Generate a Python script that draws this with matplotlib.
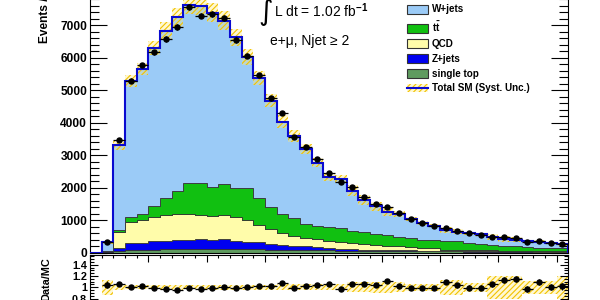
import numpy as np
import matplotlib
matplotlib.use("Agg")
import matplotlib.pyplot as plt
from matplotlib.patches import Patch
from matplotlib.lines import Line2D
from matplotlib.ticker import MultipleLocator, FixedLocator, FuncFormatter

plt.rcParams['font.family'] = ['Liberation Sans', 'DejaVu Sans']
plt.rcParams['font.weight'] = 'bold'
plt.rcParams['mathtext.fontset'] = 'custom'
plt.rcParams['mathtext.rm'] = 'Liberation Sans'
plt.rcParams['mathtext.bf'] = 'Liberation Sans:bold'
plt.rcParams['hatch.linewidth'] = 0.8

# 41 bins of 10 GeV
edges = np.arange(0, 420, 10)

single_top = np.array([0, 30, 50, 80, 85, 90, 95, 100, 105, 105, 105, 105, 100, 100, 95, 90, 85, 80, 75, 70,
                       65, 60, 56, 52, 48, 45, 42, 40, 38, 36, 34, 32, 30, 28, 26, 25, 24, 23, 22, 21, 20])
zjets = np.array([0, 5, 78, 202, 218, 264, 259, 274, 280, 310, 290, 310, 254, 233, 218, 161, 146, 130, 125, 110,
                  70, 55, 45, 38, 33, 29, 26, 23, 20, 18, 16, 14, 13, 12, 11, 10, 9, 8, 8, 7, 7])
qcd = np.array([0, 15, 513, 667, 697, 749, 800, 821, 789, 739, 738, 739, 749, 667, 533, 472, 359, 308, 256, 235,
                215, 210, 199, 185, 154, 136, 122, 107, 92, 86, 40, 36, 32, 28, 25, 22, 20, 18, 16, 14, 12])
ttbar = np.array([0, 5, 51, 153, 174, 328, 513, 697, 954, 974, 872, 943, 871, 974, 821, 687, 584, 533, 411, 411,
                  420, 415, 360, 355, 325, 320, 280, 280, 250, 250, 270, 258, 215, 202, 168, 158, 132, 121, 104, 103, 101])
wjets = np.array([0, 260, 2608, 4175, 4472, 4851, 5159, 5344, 5487, 5457, 5375, 5036, 4646, 4051, 3692, 3262, 2852,
                  2534, 2308, 1938, 1550, 1520, 1240, 980, 860, 726, 714, 575, 505, 430, 340, 300, 300, 285, 235,
                  200, 200, 175, 180, 135, 115])
data = np.array([0, 330, 3470, 5287, 5770, 6160, 6570, 6940, 7560, 7290, 7330, 7210, 6540, 6050, 5462, 4744, 4303,
                 3564, 3256, 2867, 2436, 2179, 2005, 1697, 1490, 1390, 1205, 1021, 897, 808, 768, 662, 585, 550,
                 490, 470, 440, 332, 360, 282, 260])
# relative systematic uncertainty of the total SM
syst = np.array([0, 0.13, 0.04, 0.035, 0.035, 0.035, 0.04, 0.04, 0.035, 0.035, 0.04, 0.04, 0.04, 0.04, 0.04,
                 0.045, 0.05, 0.05, 0.05, 0.05, 0.05, 0.05, 0.09, 0.09, 0.1, 0.1, 0.09, 0.06, 0.06, 0.06, 0.13,
                 0.13, 0.08, 0.08, 0.2, 0.2, 0.2, 0.12, 0.12, 0.12, 0.2])

tt_label = r'$\mathbf{t\bar{t}}$'
stack = [
    (single_top, 'single top', '#5f9b5f'),
    (zjets, 'Z+jets', '#0000f0'),
    (qcd, 'QCD', '#fffcaa'),
    (ttbar, tt_label, '#11c011'),
    (wjets, 'W+jets', '#9bcbf7'),
]
band_face = (1.0, 0.93, 0.5, 0.35)
band_hatch = '#f2c200'
line_col = '#0a0ad0'

fig = plt.figure(figsize=(6, 3), dpi=100)
ax = fig.add_axes([0.15, 0.15833, 0.7972, 0.975])
rax = fig.add_axes([0.15, -0.0707, 0.7972, 0.2223])

# stacked backgrounds
bottom = np.zeros(len(data))
for vals, lab, col in stack:
    top = bottom + vals
    ax.stairs(top, edges, baseline=bottom, fill=True, facecolor=col, edgecolor='#333333', lw=0.6, zorder=1)
    bottom = top
total = bottom

ax.stairs(total * (1 + syst), edges, baseline=total * (1 - syst), fill=True, facecolor=band_face,
          edgecolor=band_hatch, hatch='//////', lw=0, zorder=2)
ax.stairs(total, edges, color=line_col, lw=1.5, zorder=3)

centers = edges[:-1] + 5
m = data > 0
ax.errorbar(centers[m], data[m], yerr=np.sqrt(data[m]), xerr=5, fmt='o', color='black', ms=3.6,
            elinewidth=0.9, capsize=0, zorder=4)

ax.set_xlim(0, 410)
ax.set_ylim(0, 9000)
ax.xaxis.set_major_locator(MultipleLocator(50))
ax.xaxis.set_minor_locator(MultipleLocator(10))
ax.tick_params(axis='x', which='both', bottom=False, top=False, labelbottom=False)
ax.yaxis.set_major_locator(FixedLocator([0, 1000, 2000, 3000, 4000, 5000, 6000, 7000]))
ax.yaxis.set_minor_locator(MultipleLocator(200))
ax.tick_params(axis='y', which='both', direction='in', left=True, right=True, labelsize=8.6, pad=2, width=0.8)
ax.tick_params(axis='y', which='major', length=12)
ax.tick_params(axis='y', which='minor', length=6.5)

handles = [Patch(facecolor=col, edgecolor='#333333', lw=0.8) for vals, lab, col in stack[::-1]]
handles.append((Patch(facecolor=band_face, edgecolor=band_hatch, hatch='//////', lw=0),
                Line2D([], [], color=line_col, lw=1.5)))
labels = [lab for vals, lab, col in stack[::-1]] + ['Total SM (Syst. Unc.)']
ax.legend(handles, labels, loc='upper left', bbox_to_anchor=(407 / 600, 1 - 4.5 / 300),
          bbox_transform=fig.transFigure, frameon=False, fontsize=7.1, handlelength=2.13,
          handleheight=1.0, labelspacing=0.5, handletextpad=0.38, borderpad=0, borderaxespad=0)

fig.text(258 / 600, 1 - 12.5 / 300, '\u222b', family='DejaVu Sans', fontsize=20, fontweight='normal',
         ha='left', va='center')
fig.text(274 / 600, 1 - 16.7 / 300, r'L dt = 1.02 fb$^{-1}$', fontsize=10, fontweight='normal', va='baseline')
fig.text(270 / 600, 1 - 45 / 300, 'e+\u03bc, Njet \u2265 2', fontsize=10, fontweight='normal', va='baseline')
fig.text(45 / 600, 1 - 43 / 300, 'Events / 10 GeV', rotation=90, ha='center', va='bottom', fontsize=8.6)

# ratio panel
ratio = data[m] / total[m]
rerr = np.sqrt(data[m]) / total[m]
rax.stairs(1 + syst, edges, baseline=1 - syst, fill=True, facecolor=band_face, edgecolor=band_hatch,
           hatch='//////', lw=0, zorder=1)
rax.errorbar(centers[m], ratio, yerr=rerr, xerr=5, fmt='o', color='black', ms=3.6, elinewidth=0.9,
             capsize=0, zorder=3)
rax.set_xlim(0, 410)
rax.set_ylim(0.4, 1.58)
rax.xaxis.set_major_locator(MultipleLocator(50))
rax.xaxis.set_minor_locator(MultipleLocator(10))
rax.yaxis.set_major_locator(FixedLocator([0.6, 0.8, 1.0, 1.2, 1.4]))
rax.yaxis.set_minor_locator(MultipleLocator(0.05))
rax.yaxis.set_major_formatter(FuncFormatter(lambda v, p: f'{v:g}'))
rax.tick_params(axis='x', which='both', direction='in', top=True, bottom=True, labelbottom=False, width=0.8)
rax.tick_params(axis='x', which='major', length=5)
rax.tick_params(axis='x', which='minor', length=2.5)
rax.tick_params(axis='y', which='both', direction='in', left=True, right=True, labelsize=7.8, pad=2, width=0.8)
rax.tick_params(axis='y', which='major', length=6)
rax.tick_params(axis='y', which='minor', length=3)
fig.text(46 / 600, 1 - 257 / 300, 'Data/MC', rotation=90, ha='center', va='top', fontsize=7.8)

for a in (ax, rax):
    for s in a.spines.values():
        s.set_linewidth(0.8)

fig.savefig('out.png', dpi=100)
